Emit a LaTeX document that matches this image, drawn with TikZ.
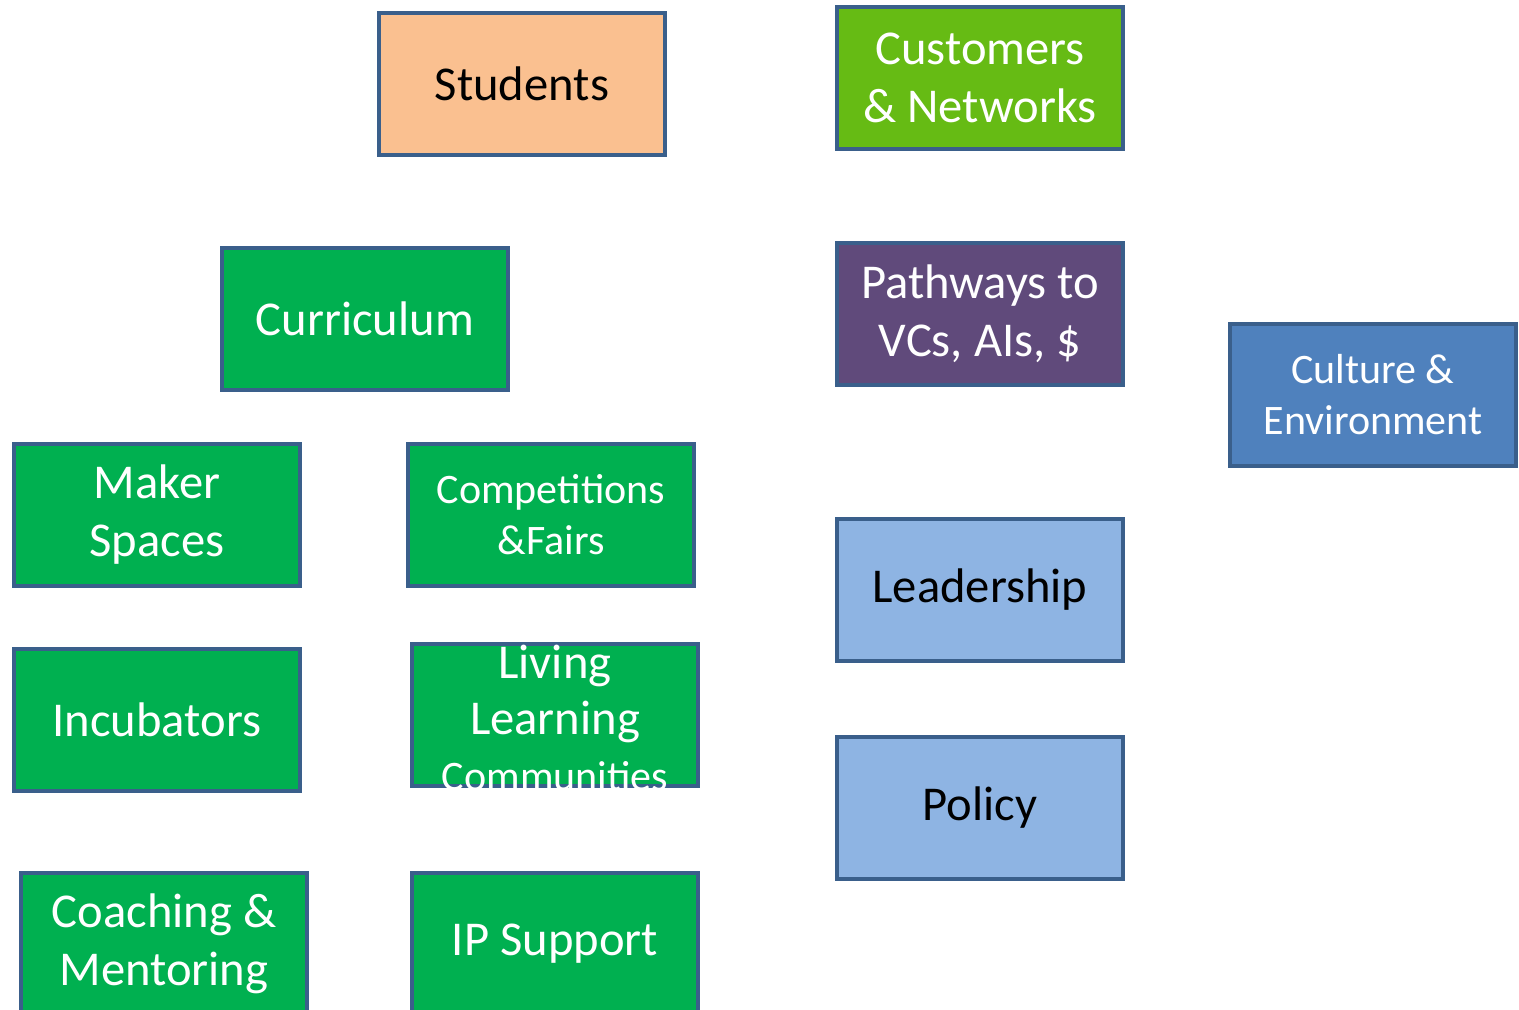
\documentclass[tikz,border=0pt]{standalone}
\usepackage{fontspec}
\setmainfont{Carlito}
\usepackage{tikz}
\usetikzlibrary{positioning}

\definecolor{boxline}{HTML}{3A5F8B}
\definecolor{grn}{HTML}{00B050}
\definecolor{lime}{HTML}{66BB14}
\definecolor{peach}{HTML}{FAC090}
\definecolor{purp}{HTML}{604A7B}
\definecolor{midblue}{HTML}{4F81BD}
\definecolor{lightblue}{HTML}{8EB4E3}

\begin{document}
\begin{tikzpicture}[x=0.5pt,y=-0.5pt,
  box/.style={rectangle,draw=boxline,line width=2pt,minimum width=143pt,minimum height=71pt,
    inner sep=0pt,align=center,font=\fontsize{24.3}{29}\selectfont},
  green box/.style={box,fill=grn,text=white},
  small text/.style={font=\fontsize{21}{25.5}\selectfont}]

  \useasboundingbox (0,0) rectangle (1519,1010);

  % top row
  \node[box,fill=peach] (students) at (522,84) {Students};
  \node[box,fill=lime,text=white] (customers) at (980,78) {Customers\\\& Networks};

  % left columns
  \node[green box] (curric) at (365,319) {Curriculum};
  \node[green box] (maker) at (157,515) {Maker\\Spaces};
  \node[green box,small text] (comp) at (551,515) {Competitions\\\&Fairs};
  \node[green box] (incub) at (157,720) {Incubators};
  \node[green box] (living) at (555,715) {};
  \node[text=white,align=center,font=\fontsize{24.3}{28}\selectfont] (livingtext) at (555,718)
    {Living\\Learning\\{\fontsize{21}{25}\selectfont Communities}};
  \node[green box] (coach) at (164,944) {Coaching \&\\Mentoring};
  \node[green box] (ipsup) at (555,944) {IP Support};

  % right columns
  \node[box,fill=purp,text=white] (pathways) at (980,314) {Pathways to\\VCs, AIs, \$};
  \node[box,fill=midblue,text=white,small text] (culture) at (1373,395) {Culture \&\\Environment};
  \node[box,fill=lightblue] (leader) at (980,590) {Leadership};
  \node[box,fill=lightblue] (policy) at (980,808) {Policy};
\end{tikzpicture}
\end{document}
